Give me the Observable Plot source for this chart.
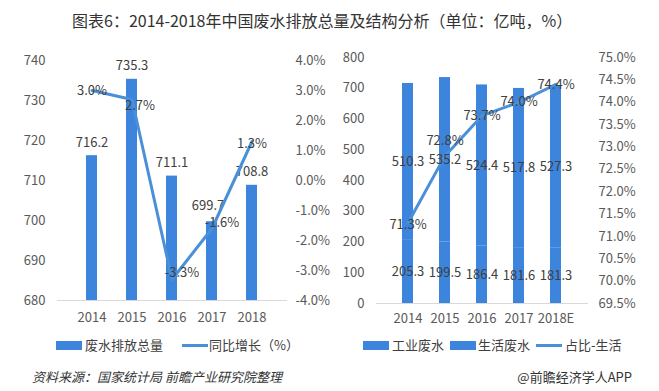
<!DOCTYPE html>
<html><head><meta charset="utf-8">
<script src="https://cdn.jsdelivr.net/npm/d3@7"></script>
<script src="https://cdn.jsdelivr.net/npm/@observablehq/plot@0.6"></script>
<style>
body{margin:0;background:#fff;}
#root{position:relative;width:659px;height:391px;overflow:hidden;background:#fff;font-family:"Noto Sans CJK SC","Microsoft YaHei",sans-serif;color:#333;}
.abs{position:absolute;white-space:nowrap;}
.layer{position:absolute;left:0;top:0;}
.lgt{font-size:13px;color:#404040;line-height:16px;}
.sw{height:9px;width:26px;background:#3d84dc;}
.ln{height:3px;width:26px;background:#4a90d9;}
</style></head>
<body><div id="root">
<div class="abs" style="left:72px;top:9px;font-size:16px;line-height:22px;color:#333;">图表6：2014-2018年中国废水排放总量及结构分析（单位：亿吨，%）</div>
<div id="left" class="abs" style="left:0;top:40px;width:330px;height:290px"></div>
<div id="right" class="abs" style="left:330px;top:40px;width:329px;height:290px"></div>

<div class="abs sw" style="left:56px;top:341px"></div>
<div class="abs lgt" style="left:85px;top:337px">废水排放总量</div>
<div class="abs ln" style="left:182px;top:344px"></div>
<div class="abs lgt" style="left:209px;top:337px">同比增长（%）</div>

<div class="abs sw" style="left:363px;top:341px"></div>
<div class="abs lgt" style="left:392px;top:337px">工业废水</div>
<div class="abs sw" style="left:450px;top:341px"></div>
<div class="abs lgt" style="left:478px;top:337px">生活废水</div>
<div class="abs ln" style="left:536px;top:344px"></div>
<div class="abs lgt" style="left:565px;top:337px">占比-生活</div>

<div class="abs" style="left:32px;top:368px;font-size:13px;line-height:18px;font-style:italic;color:#333;">资料来源：国家统计局 前瞻产业研究院整理</div>
<div class="abs" style="right:27px;top:368px;font-size:13px;line-height:18px;color:#333;">@前瞻经济学人APP</div>
</div>
<script>
// ---- data ----
const years = ["2014", "2015", "2016", "2017", "2018"];
const totalDischarge = [716.2, 735.3, 711.1, 699.7, 708.8];
const yoyGrowth = [3.0, 2.7, -3.3, -1.6, 1.3];
const totalTicks = [680, 690, 700, 710, 720, 730, 740];
const growthTicks = [-4, -3, -2, -1, 0, 1, 2, 3, 4];

const yearsRight = ["2014", "2015", "2016", "2017", "2018E"];
const industrial = [205.3, 199.5, 186.4, 181.6, 181.3];
const domestic = [510.3, 535.2, 524.4, 517.8, 527.3];
const domesticShare = [71.3, 72.8, 73.7, 74.0, 74.4];
const volumeTicks = [0, 100, 200, 300, 400, 500, 600, 700, 800];
const shareTicks = [69.5, 70.0, 70.5, 71.0, 71.5, 72.0, 72.5, 73.0, 73.5, 74.0, 74.5, 75.0];

// ---- styles ----
const BAR = "#3d84dc";
const LINE = "#4a90d9";
const LABEL = "#404040";
const style = {fontSize: "13px", fontFamily: "'Noto Sans CJK SC', sans-serif", color: "#595959", background: "transparent", overflow: "visible"};

function overlay(id, ...layers) {
  const el = document.getElementById(id);
  for (const l of layers) { l.classList.add("layer"); el.append(l); }
}

// ---- left chart ----
const lRows = years.map((year, i) => ({year, total: totalDischarge[i], growth: yoyGrowth[i]}));
const lDims = {width: 330, height: 290, marginTop: 20, marginBottom: 30, marginLeft: 57, marginRight: 43, style};
const lx = {type: "band", domain: years, padding: 0.72, label: null};

const lBars = Plot.plot({
  ...lDims,
  x: lx,
  y: {domain: [680, 740], clamp: true, label: null},
  marks: [
    Plot.barY(lRows, {x: "year", y: "total", fill: BAR}),
    Plot.ruleY([680], {stroke: "#d9d9d9"}),
    Plot.axisY(totalTicks, {anchor: "left", tickSize: 0, tickPadding: 12, label: null}),
    Plot.axisX(years, {anchor: "bottom", tickSize: 0, tickPadding: 12, label: null}),
    Plot.text(lRows.filter(d => d.year !== "2017"), {x: "year", y: "total", text: d => d.total.toFixed(1), dy: -13, fill: LABEL}),
    Plot.text(lRows.filter(d => d.year === "2017"), {x: "year", y: "total", text: d => d.total.toFixed(1), dy: -16, dx: -4, fill: LABEL})
  ]
});

const lOffsets = {"2014": [0, 0], "2015": [8, 6], "2016": [10, -7], "2017": [10, -6], "2018": [0, 2]};
const lLine = Plot.plot({
  ...lDims,
  x: {...lx, axis: null},
  y: {domain: [-4, 4], label: null},
  marks: [
    Plot.axisY(growthTicks, {anchor: "right", tickSize: 0, tickPadding: 8, tickFormat: d => d.toFixed(1) + "%", label: null}),
    Plot.line(lRows, {x: "year", y: "growth", stroke: LINE, strokeWidth: 3}),
    ...lRows.map(d => Plot.text([d], {x: "year", y: "growth", text: r => r.growth.toFixed(1) + "%", dx: lOffsets[d.year][0], dy: lOffsets[d.year][1], fill: LABEL}))
  ]
});
overlay("left", lBars, lLine);

// ---- right chart ----
const stackRows = yearsRight.flatMap((year, i) => [
  {year, type: "工业废水", value: industrial[i]},
  {year, type: "生活废水", value: domestic[i]}
]);
const rRows = yearsRight.map((year, i) => ({year, share: domesticShare[i]}));
const rDims = {width: 329, height: 290, marginTop: 17, marginBottom: 27, marginLeft: 46, marginRight: 71, style};
const rx = {type: "band", domain: yearsRight, padding: 0.69, label: null};
const ry = {domain: [0, 800], label: null};

const rBars = Plot.plot({
  ...rDims,
  x: rx,
  y: ry,
  marks: [
    Plot.barY(stackRows, {x: "year", y: "value", fill: BAR}),
    Plot.ruleY([0], {stroke: "#d9d9d9"}),
    Plot.axisY(volumeTicks, {anchor: "left", tickSize: 0, tickPadding: 12, label: null}),
    Plot.axisX(yearsRight, {anchor: "bottom", tickSize: 0, tickPadding: 10, label: null})
  ]
});

const rOffsets = {"2014": [0, 2], "2015": [0, -15], "2016": [0, 0], "2017": [0, 0], "2018E": [0, 0]};
const rLine = Plot.plot({
  ...rDims,
  x: {...rx, axis: null},
  y: {domain: [69.5, 75], label: null},
  marks: [
    Plot.axisY(shareTicks, {anchor: "right", tickSize: 0, tickPadding: 10, tickFormat: d => d.toFixed(1) + "%", label: null}),
    Plot.line(rRows, {x: "year", y: "share", stroke: LINE, strokeWidth: 3}),
    ...rRows.map(d => Plot.text([d], {x: "year", y: "share", text: r => r.share.toFixed(1) + "%", dx: rOffsets[d.year][0], dy: rOffsets[d.year][1], fill: LABEL}))
  ]
});

const rBarLabels = Plot.plot({
  ...rDims,
  x: {...rx, axis: null},
  y: {...ry, axis: null},
  marks: [
    Plot.text(stackRows, Plot.stackY({x: "year", y: "value", text: d => d.value.toFixed(1), fill: LABEL}))
  ]
});
overlay("right", rBars, rLine, rBarLabels);
</script>
</body></html>
